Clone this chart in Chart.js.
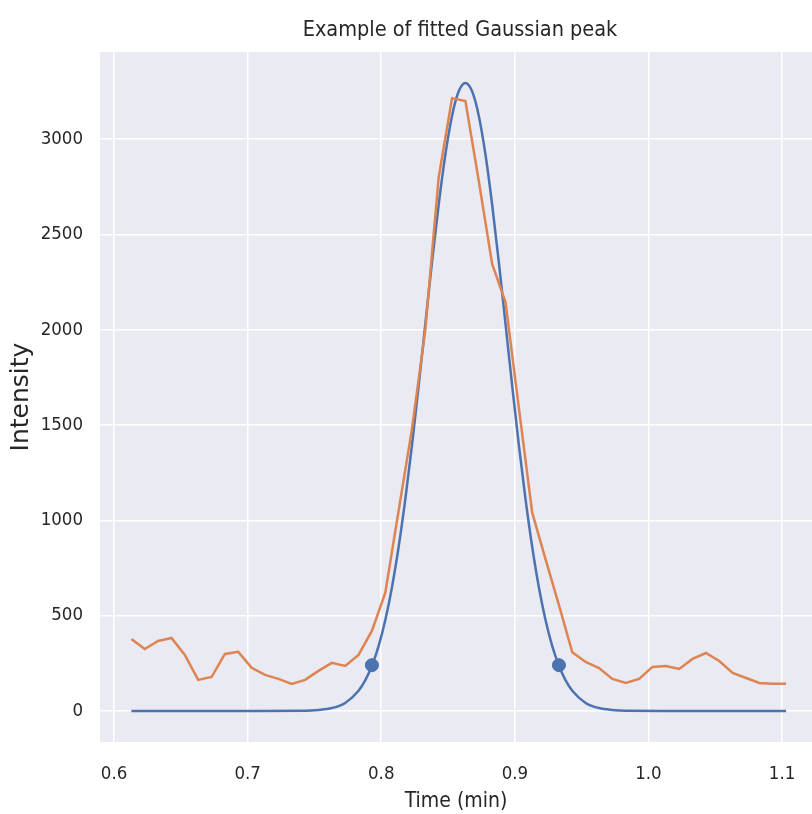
<!DOCTYPE html>
<html>
<head>
<meta charset="utf-8">
<script src="https://cdn.jsdelivr.net/npm/chart.js@4"></script>
<style>
  html, body { margin: 0; padding: 0; background: #ffffff; }
  #chart { display: block; }
</style>
</head>
<body>
<canvas id="chart" width="812" height="814"></canvas>
<script>
const ctx = document.getElementById('chart');

// measured intensity (orange)
const timeData = [0.613, 0.623, 0.633, 0.643, 0.653, 0.663, 0.673, 0.683, 0.693, 0.703,
    0.713, 0.723, 0.733, 0.743, 0.753, 0.763, 0.773, 0.783, 0.793, 0.803,
    0.813, 0.823, 0.833, 0.843, 0.853, 0.863, 0.873, 0.883, 0.893, 0.903,
    0.913, 0.923, 0.933, 0.943, 0.953, 0.963, 0.973, 0.983, 0.993, 1.003,
    1.013, 1.023, 1.033, 1.043, 1.053, 1.063, 1.073, 1.083, 1.093, 1.103];
const intensityData = [378, 325, 367, 383, 294, 163, 178, 299, 310, 226,
    189, 168, 142, 163, 210, 252, 236, 294, 420, 619,
    1050, 1480, 2000, 2800, 3215, 3200, 2780, 2345, 2145, 1590,
    1040, 795, 555, 308, 257, 225, 168, 147, 168, 231,
    236, 220, 273, 304, 262, 199, 173, 147, 142, 142];

// fitted gaussian (blue)
const fitTime = [0.613, 0.70, 0.743, 0.753, 0.763, 0.773, 0.783, 0.788, 0.793, 0.798,
    0.803, 0.808, 0.813, 0.818, 0.823, 0.828, 0.833, 0.838, 0.843, 0.848,
    0.853, 0.858, 0.863, 0.868, 0.873, 0.878, 0.883, 0.888, 0.893, 0.898,
    0.903, 0.908, 0.913, 0.918, 0.923, 0.928, 0.933, 0.938, 0.943, 0.953,
    0.963, 0.973, 0.983, 1.02, 1.103];
const fitIntensity = [0, 0, 1, 5, 15, 42, 106, 160, 237, 340,
    476, 648, 860, 1110, 1394, 1705, 2031, 2355, 2657, 2919,
    3123, 3251, 3295, 3251, 3123, 2919, 2657, 2355, 2031, 1705,
    1394, 1110, 860, 648, 476, 340, 237, 160, 106, 42,
    15, 5, 1, 0, 0];

// peak boundaries
const boundTime = [0.793, 0.933];
const boundIntensity = [240, 240];

const xTicks = [0.6, 0.7, 0.8, 0.9, 1.0, 1.1];
const yTicks = [0, 500, 1000, 1500, 2000, 2500, 3000];

const blue = '#4c72b0';
const orange = '#dd8452';
const narrow = "'DejaVu Sans Condensed', 'DejaVu Sans', sans-serif";
const tickFont = { family: narrow, size: 18.5 };

const toPoints = (xs, ys) => xs.map((x, i) => ({ x: x, y: ys[i] }));

const bgPlugin = {
    id: 'bg',
    beforeDraw(chart) {
        const a = chart.chartArea;
        const c = chart.ctx;
        c.save();
        c.fillStyle = '#eaeaf2';
        c.fillRect(a.left, a.top, a.right - a.left, a.bottom - a.top);
        c.restore();
    },
    afterDraw(chart) {
        const c = chart.ctx;
        c.save();
        c.fillStyle = '#262626';
        c.font = '21.5px ' + narrow;
        c.textAlign = 'center';
        c.textBaseline = 'middle';
        c.fillText('Example of fitted Gaussian peak', 460, 30);
        c.restore();
    }
};

new Chart(ctx, {
    type: 'scatter',
    data: {
        datasets: [
            {
                label: 'fit',
                data: toPoints(fitTime, fitIntensity),
                showLine: true,
                borderColor: blue,
                borderWidth: 2.5,
                pointRadius: 0,
                cubicInterpolationMode: 'monotone',
                order: 2,
            },
            {
                label: 'data',
                data: toPoints(timeData, intensityData),
                showLine: true,
                borderColor: orange,
                borderWidth: 2.5,
                pointRadius: 0,
                order: 1,
            },
            {
                label: 'bounds',
                data: toPoints(boundTime, boundIntensity),
                showLine: false,
                backgroundColor: blue,
                borderColor: blue,
                pointRadius: 6.5,
                order: 0,
            },
        ],
    },
    options: {
        responsive: false,
        animation: false,
        layout: { autoPadding: false, padding: { top: 52, left: 0, right: 0, bottom: 0 } },
        plugins: { legend: { display: false }, tooltip: { enabled: false } },
        scales: {
            x: {
                type: 'linear',
                min: 0.5895,
                max: 1.1224,
                afterBuildTicks: (axis) => { axis.ticks = xTicks.map((v) => ({ value: v })); },
                afterFit: (scale) => {
                    scale.height = 72;
                    scale.paddingLeft = 0;
                    scale.paddingRight = 0;
                },
                // invisible tick marks push the labels down without adding side padding
                grid: {
                    color: '#ffffff',
                    lineWidth: 1.5,
                    drawTicks: true,
                    tickLength: 21,
                    tickColor: 'rgba(0,0,0,0)',
                },
                border: { display: false },
                ticks: {
                    color: '#262626',
                    font: tickFont,
                    padding: 0,
                    maxRotation: 0,
                    callback: (v) => v.toFixed(1),
                },
                title: {
                    display: true,
                    text: 'Time (min)',
                    color: '#262626',
                    font: { family: narrow, size: 21 },
                    padding: { top: 1, bottom: 0 },
                },
            },
            y: {
                min: -163,
                max: 3457,
                afterBuildTicks: (axis) => { axis.ticks = yTicks.map((v) => ({ value: v })); },
                afterFit: (scale) => {
                    scale.width = 100;
                    scale.paddingTop = 0;
                    scale.paddingBottom = 0;
                },
                grid: { color: '#ffffff', lineWidth: 1.5, drawTicks: false },
                border: { display: false },
                ticks: {
                    color: '#262626',
                    font: tickFont,
                    padding: 17,
                    callback: (v) => String(v),
                },
                title: {
                    display: true,
                    text: 'Intensity',
                    color: '#262626',
                    font: { family: "'DejaVu Sans'", size: 25 },
                    padding: { top: 6, bottom: 0 },
                },
            },
        },
    },
    plugins: [bgPlugin],
});
</script>
</body>
</html>
